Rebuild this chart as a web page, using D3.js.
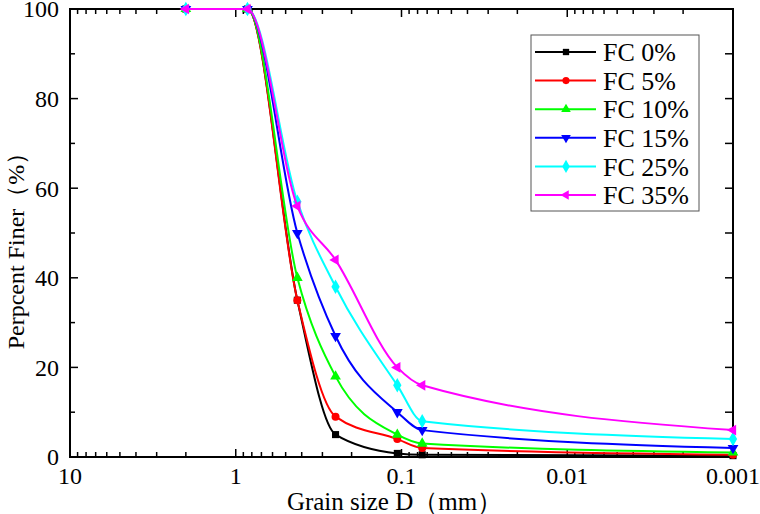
<!DOCTYPE html>
<html>
<head>
<meta charset="utf-8">
<script src="https://cdn.jsdelivr.net/npm/d3@7"></script>
<style>
  body { margin: 0; background: #fff; }
</style>
</head>
<body>
<div class="gv-chart"></div>
<script>
// grain sizes (mm) for each sieve / point
var sizes = [2, 0.85, 0.425, 0.25, 0.106, 0.075, 0.001];

// percent finer for each fines content
var fc0  = [100, 100, 35, 5, 0.8, 0.5, 0.3];
var fc5  = [100, 100, 35, 9, 4, 2, 0.5];
var fc10 = [100, 100, 40, 18, 5, 3, 1];
var fc15 = [100, 100, 50, 27, 10, 6, 2];
var fc25 = [100, 100, 57, 38, 16, 8, 4];
var fc35 = [100, 100, 56, 44, 20, 16, 6];

var seriesNames = ["FC 0%", "FC 5%", "FC 10%", "FC 15%", "FC 25%", "FC 35%"];
var seriesValues = [fc0, fc5, fc10, fc15, fc25, fc35];

var xMajor = [10, 1, 0.1, 0.01, 0.001];
var xTickLabels = ["10", "1", "0.1", "0.01", "0.001"];
var yMajor = [0, 20, 40, 60, 80, 100];
var yMinor = [10, 30, 50, 70, 90];

var colors = ["#000000", "#ff0000", "#00ff00", "#0000ff", "#00ffff", "#ff00ff"];
var symbols = [d3.symbolSquare, d3.symbolCircle, d3.symbolTriangle, d3.symbolTriangle, d3.symbolDiamond, d3.symbolTriangle];
var rotations = [0, 0, 0, 180, 0, -90];

var FONT = "'Liberation Serif'";

var W = 760, H = 514;
var pLeft = 70, pRight = 733, pTop = 9, pBottom = 457;

var svg = d3.select(".gv-chart").append("svg").attr("width", W).attr("height", H);

var x = d3.scaleLog().domain([10, 0.001]).range([pLeft, pRight]);
var y = d3.scaleLinear().domain([0, 100]).range([pBottom, pTop]);

// minor log ticks 2..9 per decade
var xMinor = [];
[1, 0.1, 0.01, 0.001].forEach(function(base) {
  for (var k = 2; k <= 9; k++) xMinor.push(base * k);
});

var majLen = 8, minLen = 5;

// bottom axis
var bAxis = svg.append("g").attr("transform", "translate(0," + pBottom + ")");
bAxis.selectAll(".maj").data(xMajor).enter().append("line")
  .attr("x1", function(d) { return x(d); }).attr("x2", function(d) { return x(d); })
  .attr("y1", 0).attr("y2", -majLen).attr("stroke", "#000").attr("stroke-width", 1.5);
bAxis.selectAll(".min").data(xMinor).enter().append("line")
  .attr("x1", function(d) { return x(d); }).attr("x2", function(d) { return x(d); })
  .attr("y1", 0).attr("y2", -minLen).attr("stroke", "#000").attr("stroke-width", 1.5);
bAxis.selectAll("text").data(xMajor).enter().append("text")
  .attr("x", function(d) { return x(d); }).attr("y", 27)
  .attr("text-anchor", "middle")
  .style("font-family", FONT).style("font-size", "24px")
  .text(function(d, i) { return xTickLabels[i]; });

// top axis
var tAxis = svg.append("g").attr("transform", "translate(0," + pTop + ")");
tAxis.selectAll(".maj").data(xMajor).enter().append("line")
  .attr("x1", function(d) { return x(d); }).attr("x2", function(d) { return x(d); })
  .attr("y1", 0).attr("y2", majLen).attr("stroke", "#000").attr("stroke-width", 1.5);
tAxis.selectAll(".min").data(xMinor).enter().append("line")
  .attr("x1", function(d) { return x(d); }).attr("x2", function(d) { return x(d); })
  .attr("y1", 0).attr("y2", minLen).attr("stroke", "#000").attr("stroke-width", 1.5);

// left axis
var lAxis = svg.append("g").attr("transform", "translate(" + pLeft + ",0)");
lAxis.selectAll(".maj").data(yMajor).enter().append("line")
  .attr("y1", function(d) { return y(d); }).attr("y2", function(d) { return y(d); })
  .attr("x1", 0).attr("x2", majLen).attr("stroke", "#000").attr("stroke-width", 1.5);
lAxis.selectAll(".min").data(yMinor).enter().append("line")
  .attr("y1", function(d) { return y(d); }).attr("y2", function(d) { return y(d); })
  .attr("x1", 0).attr("x2", minLen).attr("stroke", "#000").attr("stroke-width", 1.5);
lAxis.selectAll("text").data(yMajor).enter().append("text")
  .attr("x", -11).attr("y", function(d) { return y(d); })
  .attr("dy", "0.35em").attr("text-anchor", "end")
  .style("font-family", FONT).style("font-size", "24px")
  .text(function(d) { return d; });

// right axis
var rAxis = svg.append("g").attr("transform", "translate(" + pRight + ",0)");
rAxis.selectAll(".maj").data(yMajor.concat(yMinor)).enter().append("line")
  .attr("y1", function(d) { return y(d); }).attr("y2", function(d) { return y(d); })
  .attr("x1", 0).attr("x2", -majLen).attr("stroke", "#000").attr("stroke-width", 1.5);

// frame
svg.append("rect").attr("x", pLeft).attr("y", pTop)
  .attr("width", pRight - pLeft).attr("height", pBottom - pTop)
  .attr("fill", "none").attr("stroke", "#000").attr("stroke-width", 2);

// curves
var lineFunction = d3.line()
  .x(function(d) { return x(d.D); })
  .y(function(d) { return y(d.P); })
  .curve(d3.curveMonotoneX);

var sym = d3.symbol();

seriesValues.forEach(function(vals, i) {
  var pts = sizes.map(function(s, j) { return { D: s, P: vals[j] }; });
  var g = svg.append("g").attr("class", "series");
  g.append("path").attr("d", lineFunction(pts))
    .attr("fill", "none").attr("stroke", colors[i]).attr("stroke-width", 2);
  g.selectAll("path.mk").data(pts).enter().append("path")
    .attr("class", "mk")
    .attr("d", sym.type(symbols[i]).size(i === 4 ? 60 : 50)())
    .attr("transform", function(d) { return "translate(" + x(d.D) + "," + y(d.P) + ") rotate(" + rotations[i] + ")"; })
    .attr("fill", colors[i]);
});

// legend
var lg = svg.append("g");
lg.append("rect").attr("x", 531).attr("y", 35).attr("width", 168).attr("height", 176)
  .attr("fill", "#fff").attr("stroke", "#555").attr("stroke-width", 1);
seriesNames.forEach(function(name, i) {
  var yy = 52 + i * 28.6;
  lg.append("line").attr("x1", 535).attr("x2", 596).attr("y1", yy).attr("y2", yy)
    .attr("stroke", colors[i]).attr("stroke-width", 2);
  lg.append("path").attr("d", sym.type(symbols[i]).size(i === 4 ? 50 : 40)())
    .attr("transform", "translate(566," + yy + ") rotate(" + rotations[i] + ")")
    .attr("fill", colors[i]);
  lg.append("text").attr("x", 603).attr("y", yy).attr("dy", "0.35em")
    .style("font-family", FONT).style("font-size", "26px").text(name);
});

// axis titles
svg.append("text").attr("x", (pLeft + pRight) / 2 - 7).attr("y", 510)
  .attr("text-anchor", "middle")
  .style("font-family", FONT).style("font-size", "25px")
  .text("Grain size D（mm）");

svg.append("text").attr("transform", "translate(24,245) rotate(-90)")
  .attr("text-anchor", "middle")
  .style("font-family", FONT).style("font-size", "24px")
  .text("Perpcent Finer（%）");
</script>
</body>
</html>
